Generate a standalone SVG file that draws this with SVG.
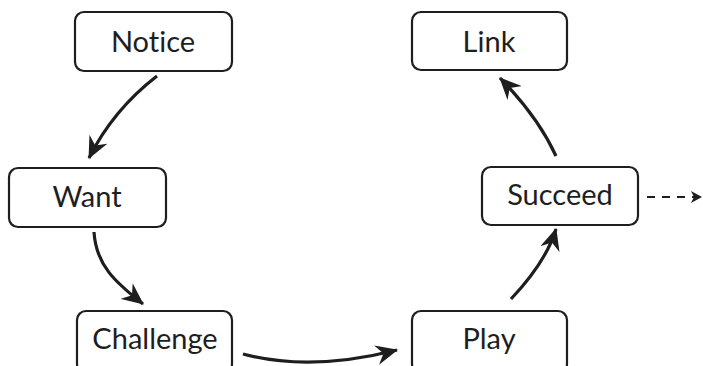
<svg xmlns="http://www.w3.org/2000/svg" width="703" height="366" viewBox="0 0 703 366">
<style>
.box{fill:#fff;stroke:#1e1e1e;stroke-width:2.2}
.lbl{font-family:Lato,"Open Sans","Liberation Sans",sans-serif;font-size:29px;fill:#1e1e1e;text-anchor:middle;font-variant-ligatures:none;font-feature-settings:"liga" 0,"dlig" 0}
.arr{fill:none;stroke:#1e1e1e;stroke-width:3.2;marker-end:url(#head)}
.dash{fill:none;stroke:#1e1e1e;stroke-width:2;stroke-dasharray:8 7;marker-end:url(#small)}
</style>
<defs>
<marker id="head" markerUnits="userSpaceOnUse" markerWidth="24" markerHeight="20" viewBox="0 0 24 20" refX="21" refY="10" orient="auto">
<path d="M0,0 L22,10 L0,20 L7,10 z" fill="#1e1e1e"/>
</marker>
<marker id="small" markerUnits="userSpaceOnUse" markerWidth="12" markerHeight="12" viewBox="0 0 12 12" refX="10" refY="6" orient="auto">
<path d="M0,0 L11,6 L0,12 L3,6 z" fill="#1e1e1e"/>
</marker>
</defs>
<rect width="703" height="366" fill="#fff"/>
<g id="connectors">
<path class="arr" d="M157,76 Q113,110 89,158"/>
<path class="arr" d="M94,232 C96,265 115,282 143,304"/>
<path class="arr" d="M243,354 Q310,372 397,350"/>
<path class="arr" d="M511,299 Q546,262 556,229"/>
<path class="arr" d="M556,156 Q538,117 500,78"/>
<path class="dash" d="M647,197 L701,197"/>
</g>
<g id="notice"><rect class="box" x="75" y="12" width="157" height="59" rx="9"/><text class="lbl" x="153" y="52">Notice</text></g>
<g id="want"><rect class="box" x="9" y="168" width="157" height="59" rx="9"/><text class="lbl" x="87" y="207">Want</text></g>
<g id="challenge"><rect class="box" x="77" y="311" width="155" height="62" rx="9"/><text class="lbl" x="155" y="349">Challenge</text></g>
<g id="play"><rect class="box" x="412" y="311" width="155" height="62" rx="9"/><text class="lbl" x="489" y="349">Play</text></g>
<g id="succeed"><rect class="box" x="482" y="167" width="156" height="58" rx="9"/><text class="lbl" x="560" y="205">Succeed</text></g>
<g id="link"><rect class="box" x="412" y="12" width="155" height="58" rx="9"/><text class="lbl" x="489" y="52">Link</text></g>
</svg>
